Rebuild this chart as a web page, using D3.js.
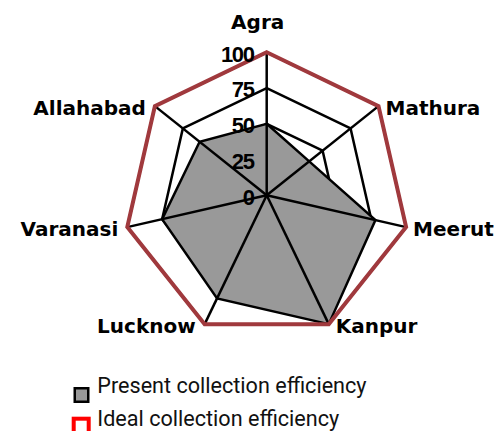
<!DOCTYPE html>
<html>
<head>
<meta charset="utf-8">
<script src="https://cdn.jsdelivr.net/npm/d3@7"></script>
<style>
  body { margin: 0; background: #fff; }
  svg { display: block; }
</style>
</head>
<body>
<svg id="canvas"></svg>
<script>
// chart values
var cities = ["Agra", "Mathura", "Meerut", "Kanpur", "Lucknow", "Varanasi", "Allahabad"];
var present = [50, 38, 78, 100, 80, 75, 60];
var ideal = [100, 100, 100, 100, 100, 100, 100];
var ticks = [0, 25, 50, 75, 100];
var seriesNames = ["Present collection efficiency", "Ideal collection efficiency"];

var width = 499, height = 431;
var cx = 266.7, cy = 195.3;

var svg = d3.select("#canvas")
    .attr("width", width)
    .attr("height", height);

var r = d3.scaleLinear().domain([0, 100]).range([0, 143]);
var angle = d3.scaleLinear().domain([0, cities.length]).range([0, 2 * Math.PI]);

function point(i, v) {
    var a = angle(i);
    return [cx + r(v) * Math.sin(a), cy - r(v) * Math.cos(a)];
}

var radar = d3.line()
    .x(function(d) { return d[0]; })
    .y(function(d) { return d[1]; })
    .curve(d3.curveLinearClosed);

// gridline rings (mostly hidden under the filled series)
svg.append("g").selectAll("path")
    .data(ticks.filter(function(t) { return t > 0; }))
    .enter().append("path")
    .attr("d", function(t) { return radar(cities.map(function(c, i) { return point(i, t); })); })
    .attr("fill", "none")
    .attr("stroke", "#000")
    .attr("stroke-width", 2.5)
    .attr("stroke-linejoin", "miter");

// present collection efficiency, filled
svg.append("path")
    .attr("d", radar(present.map(function(v, i) { return point(i, v); })))
    .attr("fill", "#999999")
    .attr("stroke", "#000")
    .attr("stroke-width", 2.5)
    .attr("stroke-linejoin", "miter");

// spokes
svg.append("g").selectAll("line")
    .data(cities)
    .enter().append("line")
    .attr("x1", cx)
    .attr("y1", cy)
    .attr("x2", function(d, i) { return point(i, 100)[0]; })
    .attr("y2", function(d, i) { return point(i, 100)[1]; })
    .attr("stroke", "#000")
    .attr("stroke-width", 2.5);

// ideal collection efficiency
svg.append("path")
    .attr("d", radar(ideal.map(function(v, i) { return point(i, v); })))
    .attr("fill", "none")
    .attr("stroke", "#a0393d")
    .attr("stroke-width", 4)
    .attr("stroke-linejoin", "miter");

// value labels on the Agra axis
svg.append("g").selectAll("text")
    .data(ticks)
    .enter().append("text")
    .attr("x", cx - 13)
    .attr("y", function(t) { return cy - r(t) + 1.5; })
    .attr("dy", "0.36em")
    .attr("text-anchor", "end")
    .style("font-family", "'Liberation Sans', Arial, sans-serif")
    .style("font-weight", "bold")
    .style("font-size", "22px")
    .style("letter-spacing", "-1.3px")
    .text(function(t) { return t; });

// category labels
svg.append("g").selectAll("text")
    .data(cities)
    .enter().append("text")
    .each(function(d, i) {
        var p = point(i, 100);
        var s = Math.sin(angle(i));
        var t = d3.select(this);
        if (Math.abs(s) < 0.01) {
            t.attr("x", p[0] - 9).attr("y", p[1] - 23).attr("text-anchor", "middle");
        } else {
            t.attr("x", p[0] + (s > 0 ? 7 : -9))
                .attr("y", p[1] + 2)
                .attr("dy", "0.36em")
                .attr("text-anchor", s > 0 ? "start" : "end");
        }
    })
    .style("font-family", "'DejaVu Sans', sans-serif")
    .style("font-weight", "bold")
    .style("font-size", "20px")
    .text(function(d) { return d; });

// legend
var legend = svg.append("g");

legend.append("rect")
    .attr("x", 74.75).attr("y", 388.25)
    .attr("width", 13.5).attr("height", 13.5)
    .attr("fill", "#999999")
    .attr("stroke", "#000")
    .attr("stroke-width", 2.5);

legend.append("rect")
    .attr("x", 73.7).attr("y", 418.7)
    .attr("width", 15).attr("height", 15)
    .attr("fill", "#fff")
    .attr("stroke", "#ff0000")
    .attr("stroke-width", 4);

legend.selectAll("text")
    .data(seriesNames)
    .enter().append("text")
    .attr("x", 97.3)
    .attr("y", function(d, i) { return 393.3 + i * 32.7; })
    .style("font-family", "Roboto, sans-serif")
    .style("font-size", "21.6px")
    .style("fill", "#111")
    .text(function(d) { return d; });
</script>
</body>
</html>
